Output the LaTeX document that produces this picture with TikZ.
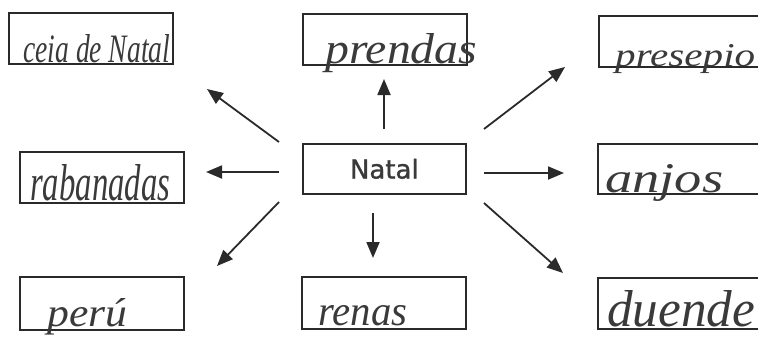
\documentclass[tikz,border=0pt]{standalone}
\usepackage{fontspec}
\usepackage{graphicx}
\newfontfamily\natalfont[FakeBold=1.2]{DejaVu Sans}
\newfontfamily\handfont{Liberation Serif}
\usetikzlibrary{arrows.meta}
\definecolor{ink}{HTML}{2a2a2a}
\definecolor{txt}{HTML}{3a3a3a}
\newcommand\hwtext[3]{\resizebox{#1pt}{#2pt}{\handfont\itshape #3}}
\tikzset{
  wordbox/.style={draw=ink, line width=1.7pt, inner sep=0pt, anchor=north west,
                  minimum width=164pt, minimum height=51pt},
  hand/.style={anchor=base west, inner sep=0pt, text=txt},
  conn/.style={draw=ink, line width=1.8pt, -{Triangle[length=16pt,width=13pt]}}
}
\begin{document}
\begin{tikzpicture}[x=1pt,y=-1pt]
\useasboundingbox (0,0) rectangle (758,354);
\begin{scope}
\clip (0,0) rectangle (758,354);
% boxes
\node[wordbox] (ceia) at (8,12) {};
\node[wordbox] (prendas) at (302,13) {};
\node[wordbox, minimum width=175pt] (presepio) at (598,15) {};
\node[wordbox] (rabanadas) at (19,151) {};
\node[wordbox, minimum width=163pt, minimum height=50pt] (natal) at (302,143) {};
\node[wordbox, minimum width=175pt, minimum height=50pt] (anjos) at (597,143) {};
\node[wordbox, minimum height=53pt] (peru) at (19,276) {};
\node[wordbox, minimum height=52pt] (renas) at (301,276) {};
\node[wordbox, minimum width=175pt] (duende) at (597,277) {};
% texts
\node[text=txt, font=\natalfont\fontsize{26}{31}\selectfont] (natallbl) at (natal.center) {Natal};
\node[hand] (t1) at (23,62) {\hwtext{147}{28}{ceia de Natal}};
\node[hand] (t2) at (325,63) {\hwtext{152}{30}{prendas}};
\node[hand] (t3) at (615,66) {\hwtext{140}{22}{presepio}};
\node[hand] (t4) at (30,200) {\hwtext{140}{36}{rabanadas}};
\node[hand] (t5) at (605,192) {\hwtext{118}{28}{anjos}};
\node[hand] (t6) at (47,326) {\hwtext{80}{28}{perú}};
\node[hand] (t7) at (318,325) {\hwtext{89}{20}{renas}};
\node[hand] (t8) at (607,326) {\hwtext{148}{36}{duende}};
\end{scope}
% arrow end points
\coordinate (sU) at (384,129);  \coordinate (eU) at (384,79);
\coordinate (sD) at (373,213);  \coordinate (eD) at (373,258);
\coordinate (sL) at (279,172);  \coordinate (eL) at (206,172);
\coordinate (sR) at (484,173);  \coordinate (eR) at (564,173);
\coordinate (sUL) at (279,142); \coordinate (eUL) at (207,89);
\coordinate (sUR) at (484,129); \coordinate (eUR) at (565,67);
\coordinate (sLL) at (279,202); \coordinate (eLL) at (217,266);
\coordinate (sLR) at (484,203); \coordinate (eLR) at (563,273);
\draw[conn] (sU) -- (eU);
\draw[conn] (sD) -- (eD);
\draw[conn] (sL) -- (eL);
\draw[conn] (sR) -- (eR);
\draw[conn] (sUL) -- (eUL);
\draw[conn] (sUR) -- (eUR);
\draw[conn] (sLL) -- (eLL);
\draw[conn] (sLR) -- (eLR);
\end{tikzpicture}
\end{document}
